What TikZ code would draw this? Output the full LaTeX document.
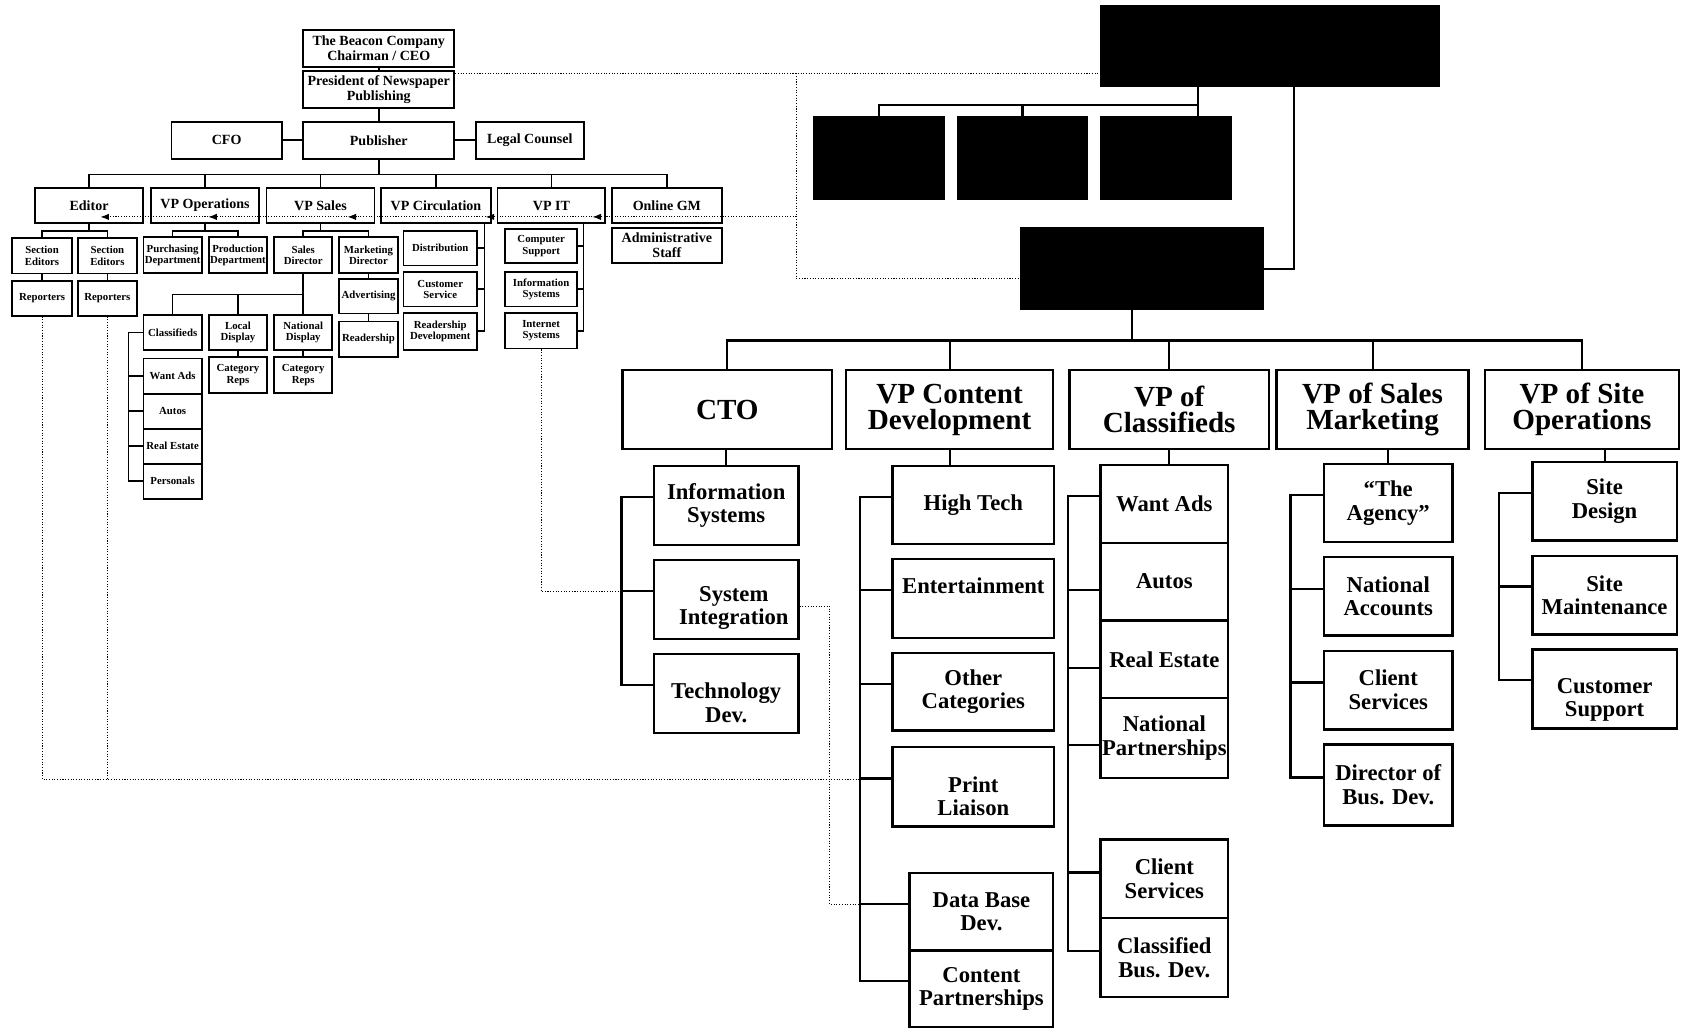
\documentclass[tikz,border=0pt]{standalone}
\usepackage{fontspec}
\setmainfont{Liberation Serif}
\usetikzlibrary{arrows.meta, positioning}

\begin{document}
\begin{tikzpicture}[
    x=1pt, y=-1pt,
    lbox/.style={
        draw, line width=1.7pt, inner sep=0pt,
        minimum width=100pt, minimum height=33pt,
        align=center, font=\fontsize{13}{14}\selectfont\bfseries
    },
    sbox/.style={
        lbox, minimum width=54pt,
        font=\fontsize{10}{10.5}\selectfont\bfseries
    },
    blk/.style={draw, fill=black, line width=1pt, inner sep=0pt},
    vpbox/.style={
        draw, line width=2.4pt, inner sep=0pt, minimum height=73pt,
        align=center, font=\fontsize{27}{24}\selectfont\bfseries
    },
    cbox/.style={
        draw, line width=2.2pt, inner sep=0pt,
        minimum width=134pt, minimum height=73pt,
        align=center, font=\fontsize{21}{22}\selectfont\bfseries
    },
    ctext/.style={inner sep=0pt, align=center, font=\fontsize{21}{22}\selectfont\bfseries},
    lnk/.style={line width=1.5pt},
    rlnk/.style={line width=2pt},
    dotl/.style={line width=1pt, dash pattern=on 1pt off 1.5pt},
    dotarr/.style={dotl, -{Latex[length=8pt, width=6pt]}}
]
\useasboundingbox (0,0) rectangle (1568,953);

% newspaper side
\node[lbox, minimum width=140pt, minimum height=34pt] (chair) at (351,45) {The Beacon Company\\Chairman / CEO};
\node[lbox, minimum width=140pt, minimum height=34pt] (pres)  at (351,83) {President of Newspaper\\Publishing};
\node[lbox, minimum width=140pt, minimum height=34pt] (pub)   at (351,130) {Publisher};
\node[lbox, minimum width=102pt, minimum height=34pt] (cfo)   at (210,130) {CFO};
\node[lbox, minimum height=34pt] (legal) at (491,130) {Legal Counsel};

\node[lbox] (editor)  at (82.5,190.5) {Editor};
\node[lbox] (vpops)   at (190,190.5) {VP Operations};
\node[lbox] (vpsales) at (297,190.5) {VP Sales};
\node[lbox, minimum width=102pt] (vpcirc) at (404,190.5) {VP Circulation};
\node[lbox] (vpit)    at (511,190.5) {VP IT};
\node[lbox, minimum width=102pt] (online) at (618,190.5) {Online GM};
\node[lbox, minimum width=102pt] (admin)  at (618,227.5) {Administrative\\Staff};

\node[sbox, minimum width=55pt] (sec1) at (39,237) {Section\\Editors};
\node[sbox, minimum width=55pt] (sec2) at (99.5,237) {Section\\Editors};
\node[sbox, minimum width=55pt, minimum height=32pt] (rep1) at (39,276.5) {Reporters};
\node[sbox, minimum width=55pt, minimum height=32pt] (rep2) at (99.5,276.5) {Reporters};

\node[sbox] (purch)    at (160,236.5) {Purchasing\\Department};
\node[sbox] (prod)     at (220.5,236.5) {Production\\Department};
\node[sbox] (salesdir) at (281,236.5) {Sales\\Director};
\node[sbox] (mktdir)   at (341.5,236.5) {Marketing\\Director};
\node[sbox, minimum height=32pt] (advert) at (341.5,274.5) {Advertising};
\node[sbox] (readers)  at (341.5,314.5) {Readership};

\node[sbox, minimum height=32pt] (classif)   at (160,308) {Classifieds};
\node[sbox, minimum height=32pt] (localdisp) at (220.5,308) {Local\\Display};
\node[sbox, minimum height=32pt] (natdisp)   at (281,308) {National\\Display};
\node[sbox] (catreps1) at (220.5,347.5) {Category\\Reps};
\node[sbox] (catreps2) at (281,347.5) {Category\\Reps};
\node[sbox, minimum height=32.5pt] (wantads)   at (160,348.5) {Want Ads};
\node[sbox, minimum height=32.5pt] (autos)     at (160,381) {Autos};
\node[sbox, minimum height=32.5pt] (realest)   at (160,413.5) {Real Estate};
\node[sbox, minimum height=32.5pt] (personals) at (160,446) {Personals};

\node[sbox, minimum width=68pt, minimum height=32pt] (distrib)  at (408,230) {Distribution};
\node[sbox, minimum width=68pt, minimum height=32pt] (custserv) at (408,268) {Customer\\Service};
\node[sbox, minimum width=68pt, minimum height=34pt] (readdev)  at (408,307) {Readership\\Development};
\node[sbox, minimum width=67pt, minimum height=32pt] (compsup)  at (501.5,228) {Computer\\Support};
\node[sbox, minimum width=67pt, minimum height=32pt] (infosysl) at (501.5,268) {Information\\Systems};
\node[sbox, minimum width=67pt, minimum height=33pt] (internet) at (501.5,306.5) {Internet\\Systems};

\draw[lnk] (chair) -- (pres);
\draw[lnk] (pres) -- (pub);
\draw[lnk] (cfo) -- (pub);
\draw[lnk] (pub) -- (legal);
\draw[lnk] (pub.south) -- ++(0,14) coordinate (lbus);
\draw[lnk] (editor.north) |- (lbus) -| (online.north);
\foreach \n in {vpops,vpsales,vpcirc,vpit}
    \draw[lnk] (\n.north) -- (\n.north |- lbus);

\draw[lnk] (editor.south) -- ++(0,6) coordinate (edb);
\draw[lnk] (sec1.north) |- (edb) -| (sec2.north);
\draw[lnk] (sec1) -- (rep1);
\draw[lnk] (sec2) -- (rep2);
\draw[lnk] (vpops.south) -- ++(0,6) coordinate (opb);
\draw[lnk] (purch.north) |- (opb) -| (prod.north);
\draw[lnk] (vpsales.south) -- ++(0,6) coordinate (slb);
\draw[lnk] (salesdir.north) |- (slb) -| (mktdir.north);
\draw[lnk] (mktdir) -- (advert);
\draw[lnk] (advert) -- (readers);
\draw[lnk] (salesdir.south) -- ++(0,19) coordinate (sdb);
\draw[lnk] (classif.north) |- (sdb) -- (natdisp.north);
\draw[lnk] (localdisp.north) -- (localdisp.north |- sdb);
\draw[lnk] (localdisp) -- (catreps1);
\draw[lnk] (natdisp) -- (catreps2);
\draw[lnk] (classif.west) -- ++(-13,0) |- (personals.west);
\foreach \n in {wantads,autos,realest}
    \draw[lnk] (\n.west) -- ++(-13,0);
\draw[lnk] ([xshift=-7pt]vpcirc.south east) |- (readdev.east);
\foreach \n in {distrib,custserv}
    \draw[lnk] (\n.east) -- ++(6,0);
\draw[lnk] ([xshift=-21pt]vpit.south east) |- (internet.east);
\foreach \n in {compsup,infosysl}
    \draw[lnk] (\n.east) -- ++(5,0);

% online side
\node[blk, minimum width=314pt, minimum height=75pt] (topblk) at (1177,42.5) {};
\node[blk, minimum width=121pt, minimum height=77pt] (blk1) at (814.5,146.5) {};
\node[blk, minimum width=121pt, minimum height=77pt] (blk2) at (947.5,146.5) {};
\node[blk, minimum width=121pt, minimum height=77pt] (blk3) at (1080.5,146.5) {};
\node[blk, minimum width=225pt, minimum height=76pt] (midblk) at (1058.5,249) {};

\node[vpbox, minimum width=194pt] (cto)  at (674,379.5) {CTO};
\node[vpbox, minimum width=192pt] (vpcd) at (880,379.5) {VP Content\\Development};
\node[vpbox, minimum width=185pt] (vpcl) at (1083.5,379.5) {VP of\\Classifieds};
\node[vpbox, minimum width=178pt] (vpsm) at (1272,379.5) {VP of Sales\\Marketing};
\node[vpbox, minimum width=180pt] (vpso) at (1466,379.5) {VP of Site\\Operations};

\node[cbox] (infosys) at (673,468.5) {Information\\Systems};
\node[cbox, label={[ctext, xshift=7pt, yshift=-8pt]center:System\\Integration}] (sysint) at (673,555.5) {};
\node[cbox, label={[ctext, yshift=-9pt]center:Technology\\Dev.}] (techdev) at (673,642.5) {};

\node[cbox, minimum width=150pt, minimum height=72pt] (hightech) at (902,468) {High Tech};
\node[cbox, minimum width=150pt, label={[ctext, yshift=12pt]center:Entertainment}] (entert) at (902,554.5) {};
\node[cbox, minimum width=150pt, minimum height=72pt] (othercat) at (902,641) {Other\\Categories};
\node[cbox, minimum width=150pt, minimum height=74pt, label={[ctext, yshift=-9pt]center:Print\\Liaison}] (printl) at (902,729) {};
\node[cbox, minimum width=133pt, minimum height=72pt] (dbdev) at (909.5,845) {Data Base\\Dev.};
\node[cbox, minimum width=133pt, minimum height=71pt] (contp) at (909.5,916.5) {Content\\Partnerships};

\node[cbox, minimum width=118pt, minimum height=72pt] (wantadsr) at (1079,467) {Want Ads};
\node[cbox, minimum width=118pt, minimum height=72pt] (autosr)   at (1079,539) {Autos};
\node[cbox, minimum width=118pt, minimum height=72pt] (realestr) at (1079,611) {Real Estate};
\node[cbox, minimum width=118pt, minimum height=74pt] (natpart)  at (1079,684) {National\\Partnerships};
\node[cbox, minimum width=118pt] (clientsv) at (1079,814.5) {Client\\Services};
\node[cbox, minimum width=118pt] (classbd)  at (1079,887.5) {Classified\\Bus. Dev.};

\node[cbox, minimum width=119pt, minimum height=72pt] (agency) at (1286.5,466) {“The\\Agency”};
\node[cbox, minimum width=119pt] (natacc)    at (1286.5,552.5) {National\\Accounts};
\node[cbox, minimum width=119pt] (clientsv2) at (1286.5,639.5) {Client\\Services};
\node[cbox, minimum width=119pt, minimum height=75pt] (dirbd) at (1286.5,727.5) {Director of\\Bus. Dev.};

\node[cbox] (sitedes)   at (1487,464.5) {Site\\Design};
\node[cbox] (sitemaint) at (1487,551.5) {Site\\Maintenance};
\node[cbox, label={[ctext, yshift=-10pt]center:Customer\\Support}] (custsup) at (1487,638.5) {};

\coordinate (tb) at (1110,97);
\draw[rlnk] (topblk.south -| tb) -- (tb) -| (blk1.north);
\draw[rlnk] (blk2.north) -- (blk2.north |- tb);
\draw[rlnk] (tb) -- (blk3.north -| tb);
\draw[rlnk] ([xshift=22pt]topblk.south) |- (midblk.east);
\draw[rlnk] ([xshift=-9.5pt]midblk.south) -- ++(0,28) coordinate (rbus);
\draw[rlnk] (cto.north) |- (rbus) -| (vpso.north);
\foreach \n in {vpcd,vpcl,vpsm}
    \draw[rlnk] (\n.north) -- (\n.north |- rbus);

\draw[rlnk] (cto.south -| infosys.north) -- (infosys.north);
\draw[rlnk] (vpcd.south) -- (vpcd.south |- hightech.north);
\draw[rlnk] (vpcl.south) -- (vpcl.south |- wantadsr.north);
\draw[rlnk] (vpsm.south -| agency.north) -- (agency.north);
\draw[rlnk] (vpso.south -| sitedes.north) -- (sitedes.north);

\draw[rlnk] ([yshift=8pt]infosys.west) -- ++(-29,0) |- ([yshift=8pt]techdev.west);
\draw[rlnk] ([yshift=8pt]sysint.west) -- ++(-29,0);
\draw[rlnk] ([yshift=7.5pt]hightech.west) -- ++(-29,0) |- ([yshift=7.5pt]contp.west);
\foreach \n in {entert,othercat,printl}
    \draw[rlnk] ([yshift=7.5pt]\n.west) -- ++(-29,0);
\draw[rlnk] ([yshift=7.5pt]dbdev.west) -- ++(-45,0);
\draw[rlnk] ([yshift=7pt]wantadsr.west) -- ++(-29,0) |- ([yshift=6pt]classbd.west);
\draw[rlnk] ([yshift=-8pt]autosr.west) -- ++(-29,0);
\draw[rlnk] ([yshift=-8pt]realestr.west) -- ++(-29,0);
\draw[rlnk] ([yshift=-6.5pt]natpart.west) -- ++(-29,0);
\draw[rlnk] ([yshift=6pt]clientsv.west) -- ++(-29,0);
\draw[rlnk] ([yshift=7pt]agency.west) -- ++(-30,0) |- ([yshift=7pt]dirbd.west);
\foreach \n in {natacc,clientsv2}
    \draw[rlnk] ([yshift=7pt]\n.west) -- ++(-30,0);
\draw[rlnk] ([yshift=8pt]sitedes.west) -- ++(-30,0) |- ([yshift=8pt]custsup.west);
\draw[rlnk] ([yshift=8pt]sitemaint.west) -- ++(-30,0);

% dotted links between the two charts
\coordinate (dtop) at (738,68);
\coordinate (dmid) at (738,201);
\coordinate (dbot) at (738,258);
\coordinate (tipit) at (549,201);
\coordinate (tipcirc) at (450,201);
\coordinate (tipsales) at (322,201);
\coordinate (tipops) at (193,201);
\coordinate (tiped) at (93,201);
\coordinate (plj) at (798,722);
\coordinate (sij) at (577,548);
\coordinate (dbj) at (798,838);

\draw[dotl] ([yshift=15pt]pres.east) -- (dtop) -- (dtop -| topblk.west);
\draw[dotl] (dtop) -- (dbot) -- (dbot -| midblk.west);
\draw[dotarr] (dmid) -- (tipit);
\draw[dotarr] (tipit) -- (tipcirc);
\draw[dotarr] (tipcirc) -- (tipsales);
\draw[dotarr] (tipsales) -- (tipops);
\draw[dotarr] (tipops) -- (tiped);
\draw[dotl] (rep1.south) |- (plj);
\draw[dotl] (rep2.south) -- (rep2.south |- plj);
\draw[dotl] (internet.south) |- (sij);
\draw[dotl] ([yshift=-6.5pt]sysint.east) -- ++(28,0) |- (dbj);

\end{tikzpicture}
\end{document}
